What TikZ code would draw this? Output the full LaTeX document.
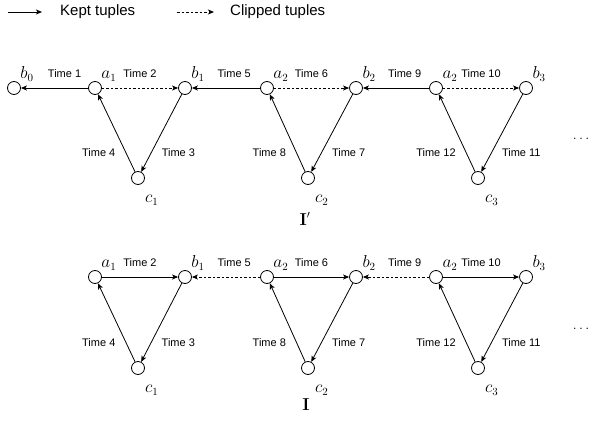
\documentclass[tikz,border=0pt]{standalone}
\usepackage{amsmath}
\usepackage[no-math]{fontspec}
\setmainfont{Liberation Sans}
\usepackage{tikz}
\usetikzlibrary{arrows.meta}

\begin{document}
\begin{tikzpicture}[
    x=1pt, y=-1pt,
    >={Stealth[length=6pt,width=5pt,inset=1.5pt]},
    vertex/.style={
        circle,
        draw,
        line width=0.8pt,
        fill=white,
        minimum size=13pt,
        inner sep=0pt
    },
    toplbl/.style={
        inner sep=0pt,
        label distance=2pt,
        font=\fontsize{16}{18}\selectfont
    },
    botlbl/.style={
        inner sep=0pt,
        xshift=2pt,
        yshift=-12pt,
        font=\fontsize{16}{18}\selectfont
    },
    timelbl/.style={
        inner sep=1pt,
        font=\fontsize{11}{13}\selectfont
    },
    kept/.style={
        ->,
        line width=0.8pt
    },
    clipped/.style={
        ->,
        line width=0.8pt,
        dash pattern=on 2.5pt off 2pt
    }
]
\useasboundingbox (0,0) rectangle (593,425);

% Legend
\coordinate (keptA) at (8,12);
\coordinate (keptB) at (42,12);
\coordinate (clipA) at (177,12);
\coordinate (clipB) at (214,12);
\draw[kept] (keptA) -- (keptB);
\draw[clipped] (clipA) -- (clipB);
\node[anchor=west, inner sep=2pt, font=\fontsize{15}{17}\selectfont] (keptlbl) at (58,12) {Kept tuples};
\node[anchor=west, inner sep=2pt, font=\fontsize{15}{17}\selectfont] (cliplbl) at (228,12) {Clipped tuples};

% Instance I' (top)
\node[vertex, label={[toplbl]above right:$b_0$}] (pb0) at (14,88) {};
\node[vertex, label={[toplbl]above right:$a_1$}] (pa1) at (95,88) {};
\node[vertex, label={[toplbl]above right:$b_1$}] (pb1) at (185,88) {};
\node[vertex, label={[toplbl]above right:$a_2$}] (pa2) at (267,88) {};
\node[vertex, label={[toplbl]above right:$b_2$}] (pb2) at (356,88) {};
\node[vertex, label={[toplbl]above right:$a_2$}] (pa3) at (436,88) {};
\node[vertex, label={[toplbl]above right:$b_3$}] (pb3) at (526,88) {};
\node[vertex, label={[botlbl]below right:$c_1$}] (pc1) at (138,178) {};
\node[vertex, label={[botlbl]below right:$c_2$}] (pc2) at (308,178) {};
\node[vertex, label={[botlbl]below right:$c_3$}] (pc3) at (478,178) {};

\draw[kept] (pa1) -- node[timelbl, pos=0.35, above=9pt] {Time 1} (pb0);
\draw[clipped] (pa1) -- node[timelbl, above=9pt] {Time 2} (pb1);
\draw[kept] (pb1) -- node[timelbl, pos=0.75, right=9pt] {Time 3} (pc1);
\draw[kept] (pc1) -- node[timelbl, pos=0.25, left=9pt] {Time 4} (pa1);
\draw[kept] (pa2) -- node[timelbl, pos=0.38, above=9pt] {Time 5} (pb1);
\draw[clipped] (pa2) -- node[timelbl, above=9pt] {Time 6} (pb2);
\draw[kept] (pb2) -- node[timelbl, pos=0.75, right=9pt] {Time 7} (pc2);
\draw[kept] (pc2) -- node[timelbl, pos=0.25, left=9pt] {Time 8} (pa2);
\draw[kept] (pa3) -- node[timelbl, pos=0.37, above=9pt] {Time 9} (pb2);
\draw[clipped] (pa3) -- node[timelbl, above=9pt] {Time 10} (pb3);
\draw[kept] (pb3) -- node[timelbl, pos=0.75, right=9pt] {Time 11} (pc3);
\draw[kept] (pc3) -- node[timelbl, pos=0.25, left=9pt] {Time 12} (pa3);

\node[anchor=base east, inner sep=0pt, font=\fontsize{14}{16}\selectfont] (pdots) at (592,139) {$\dots$};
\node[font=\fontsize{16}{18}\selectfont] (ptitle) at (305,219) {$\mathbf{I}'$};

% Instance I (bottom)
\node[vertex, label={[toplbl]above right:$a_1$}] (a1) at (95,277) {};
\node[vertex, label={[toplbl]above right:$b_1$}] (b1) at (185,277) {};
\node[vertex, label={[toplbl]above right:$a_2$}] (a2) at (267,277) {};
\node[vertex, label={[toplbl]above right:$b_2$}] (b2) at (356,277) {};
\node[vertex, label={[toplbl]above right:$a_2$}] (a3) at (436,277) {};
\node[vertex, label={[toplbl]above right:$b_3$}] (b3) at (526,277) {};
\node[vertex, label={[botlbl]below right:$c_1$}] (c1) at (138,368) {};
\node[vertex, label={[botlbl]below right:$c_2$}] (c2) at (308,368) {};
\node[vertex, label={[botlbl]below right:$c_3$}] (c3) at (478,368) {};

\draw[kept] (a1) -- node[timelbl, above=9pt] {Time 2} (b1);
\draw[kept] (b1) -- node[timelbl, pos=0.75, right=9pt] {Time 3} (c1);
\draw[kept] (c1) -- node[timelbl, pos=0.25, left=9pt] {Time 4} (a1);
\draw[clipped] (a2) -- node[timelbl, pos=0.38, above=9pt] {Time 5} (b1);
\draw[kept] (a2) -- node[timelbl, above=9pt] {Time 6} (b2);
\draw[kept] (b2) -- node[timelbl, pos=0.75, right=9pt] {Time 7} (c2);
\draw[kept] (c2) -- node[timelbl, pos=0.25, left=9pt] {Time 8} (a2);
\draw[clipped] (a3) -- node[timelbl, pos=0.37, above=9pt] {Time 9} (b2);
\draw[kept] (a3) -- node[timelbl, above=9pt] {Time 10} (b3);
\draw[kept] (b3) -- node[timelbl, pos=0.75, right=9pt] {Time 11} (c3);
\draw[kept] (c3) -- node[timelbl, pos=0.25, left=9pt] {Time 12} (a3);

\node[anchor=base east, inner sep=0pt, font=\fontsize{14}{16}\selectfont] (dots) at (592,329) {$\dots$};
\node[font=\fontsize{16}{18}\selectfont] (title) at (306,405) {$\mathbf{I}$};

\end{tikzpicture}
\end{document}
